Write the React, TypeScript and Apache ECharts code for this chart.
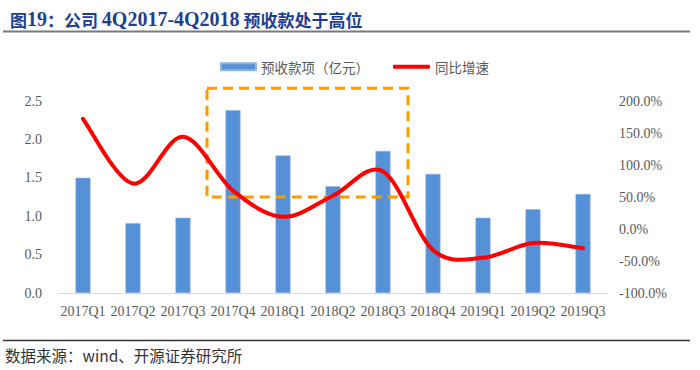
import React, { useEffect, useRef } from "react";
import * as echarts from "echarts";

const categories = ["2017Q1", "2017Q2", "2017Q3", "2017Q4", "2018Q1", "2018Q2", "2018Q3", "2018Q4", "2019Q1", "2019Q2", "2019Q3"];
const advanceReceipts = [1.5, 0.91, 0.98, 2.38, 1.79, 1.39, 1.85, 1.55, 0.98, 1.09, 1.29];
const yoyGrowth = [172, 71, 144, 60, 19, 52, 90, -33, -45, -22, -30];
const leftTicks = { min: 0, max: 2.5, interval: 0.5 };
const rightTicks = { min: -100, max: 200, interval: 50 };
// highlighted range: between category indexes, and growth % bounds
const boxCats = [2, 3, 6, 7];
const boxGrowth = [50, 220];

const barName = "预收款项（亿元）";
const lineName = "同比增速";
const titleParts = ["图", "19", "：公司 ", "4Q2017-4Q2018", " 预收款处于高位"];
const sourceText = "数据来源：wind、开源证券研究所";

const SERIF = "'Liberation Serif', 'Times New Roman', serif";
const CJK = "'Noto Sans CJK SC', sans-serif";
const AXIS_COLOR = "#595959";

export default function App() {
  const ref = useRef<HTMLDivElement>(null);
  useEffect(() => {
    if (!ref.current) return;
    const chart = echarts.init(ref.current, null, { renderer: "svg" });

    // Excel-like smoothed line (Catmull-Rom through every data point)
    const renderSmooth = (params: any, api: any) => {
      if (params.dataIndex !== 0) return null;
      const pts = yoyGrowth.map((v, i) => api.coord([i, v]) as number[]);
      const n = pts.length;
      const t = 1 / 6;
      let d = `M${pts[0][0]},${pts[0][1]}`;
      for (let i = 0; i < n - 1; i++) {
        const p0 = pts[Math.max(0, i - 1)];
        const p1 = pts[i];
        const p2 = pts[i + 1];
        const p3 = pts[Math.min(n - 1, i + 2)];
        const c1x = p1[0] + (p2[0] - p0[0]) * t;
        const c1y = p1[1] + (p2[1] - p0[1]) * t;
        const c2x = p2[0] - (p3[0] - p1[0]) * t;
        const c2y = p2[1] - (p3[1] - p1[1]) * t;
        d += ` C${c1x},${c1y} ${c2x},${c2y} ${p2[0]},${p2[1]}`;
      }
      return {
        type: "path",
        shape: { pathData: d },
        style: { fill: "none", stroke: "#ff0000", lineWidth: 4, lineCap: "round", lineJoin: "round" },
      };
    };

    chart.setOption({
      animation: false,
      backgroundColor: "#ffffff",
      title: {
        left: 5,
        top: 4,
        text: `{c|${titleParts[0]}}{l|${titleParts[1]}}{c|${titleParts[2]}}{l|${titleParts[3]}}{c|${titleParts[4]}}`,
        textStyle: {
          rich: {
            c: { fontFamily: CJK, fontWeight: "bold", fontSize: 17, color: "#1f3f8f" },
            l: { fontFamily: SERIF, fontWeight: "bold", fontSize: 20, color: "#1f3f8f" },
          },
        },
      },
      legend: [
        {
          data: [barName],
          left: 215,
          top: 55,
          itemWidth: 35,
          itemHeight: 7,
          itemGap: 5,
          icon: "rect",
          textStyle: { fontFamily: CJK, fontSize: 13.5, color: AXIS_COLOR },
        },
        {
          data: [lineName],
          left: 388,
          top: 55,
          itemWidth: 37,
          itemHeight: 4,
          icon: "roundRect",
          itemStyle: { color: "#ff0000" },
          textStyle: { fontFamily: CJK, fontSize: 13.5, color: AXIS_COLOR },
        },
      ],
      grid: { left: 58, right: 92, top: 101, bottom: 77 },
      xAxis: {
        type: "category",
        data: categories,
        axisLine: { show: true, lineStyle: { color: "#d9d9d9", width: 1 } },
        axisTick: { show: false },
        axisLabel: { fontFamily: SERIF, fontSize: 14, color: AXIS_COLOR, margin: 11, interval: 0 },
      },
      yAxis: [
        {
          type: "value",
          ...leftTicks,
          splitLine: { show: false },
          axisLine: { show: false },
          axisTick: { show: false },
          axisLabel: {
            fontFamily: SERIF,
            fontSize: 14,
            color: AXIS_COLOR,
            margin: 16,
            formatter: (v: number) => v.toFixed(1),
          },
        },
        {
          type: "value",
          ...rightTicks,
          splitLine: { show: false },
          axisLine: { show: false },
          axisTick: { show: false },
          axisLabel: {
            fontFamily: SERIF,
            fontSize: 14,
            color: AXIS_COLOR,
            margin: 11,
            formatter: (v: number) => v.toFixed(1) + "%",
          },
        },
      ],
      series: [
        {
          name: barName,
          type: "bar",
          data: advanceReceipts,
          barWidth: 15,
          z: 2,
          itemStyle: { color: "#5690d6", borderColor: "#8fb4e6", borderWidth: 0.6 },
        },
        {
          name: lineName,
          type: "custom",
          yAxisIndex: 1,
          data: yoyGrowth.map((v, i) => [i, v]),
          encode: { x: 0, y: 1 },
          renderItem: renderSmooth,
          clip: false,
          z: 4,
          itemStyle: { color: "#ff0000" },
        },
      ],
    });

    const xMid = (a: number, b: number) =>
      ((chart.convertToPixel({ xAxisIndex: 0 }, categories[a]) as number) +
        (chart.convertToPixel({ xAxisIndex: 0 }, categories[b]) as number)) / 2;
    const bx0 = xMid(boxCats[0], boxCats[1]) - 1;
    const bx1 = xMid(boxCats[2], boxCats[3]);
    const by0 = chart.convertToPixel({ yAxisIndex: 1 }, boxGrowth[1]) as number;
    const by1 = chart.convertToPixel({ yAxisIndex: 1 }, boxGrowth[0]) as number;

    chart.setOption({
      graphic: [
        {
          type: "rect",
          z: 3,
          shape: { x: bx0, y: by0, width: bx1 - bx0, height: by1 - by0 },
          style: { fill: "none", stroke: "#ff9900", lineWidth: 3, lineDash: [10, 6] },
        },
        {
          type: "line",
          shape: { x1: 3, y1: 31.5, x2: 690, y2: 31.5 },
          style: { stroke: "#7a7a7a", lineWidth: 2 },
        },
        {
          type: "line",
          shape: { x1: 3, y1: 340.5, x2: 690, y2: 340.5 },
          style: { stroke: "#333333", lineWidth: 1.5 },
        },
        {
          type: "text",
          left: 5,
          top: 347,
          style: { text: sourceText, font: `15.5px ${CJK}`, fill: "#333333" },
        },
      ],
    });
    return () => chart.dispose();
  }, []);
  return <div ref={ref} style={{ position: "absolute", left: 0, top: 0, width: 700, height: 370 }} />;
}
